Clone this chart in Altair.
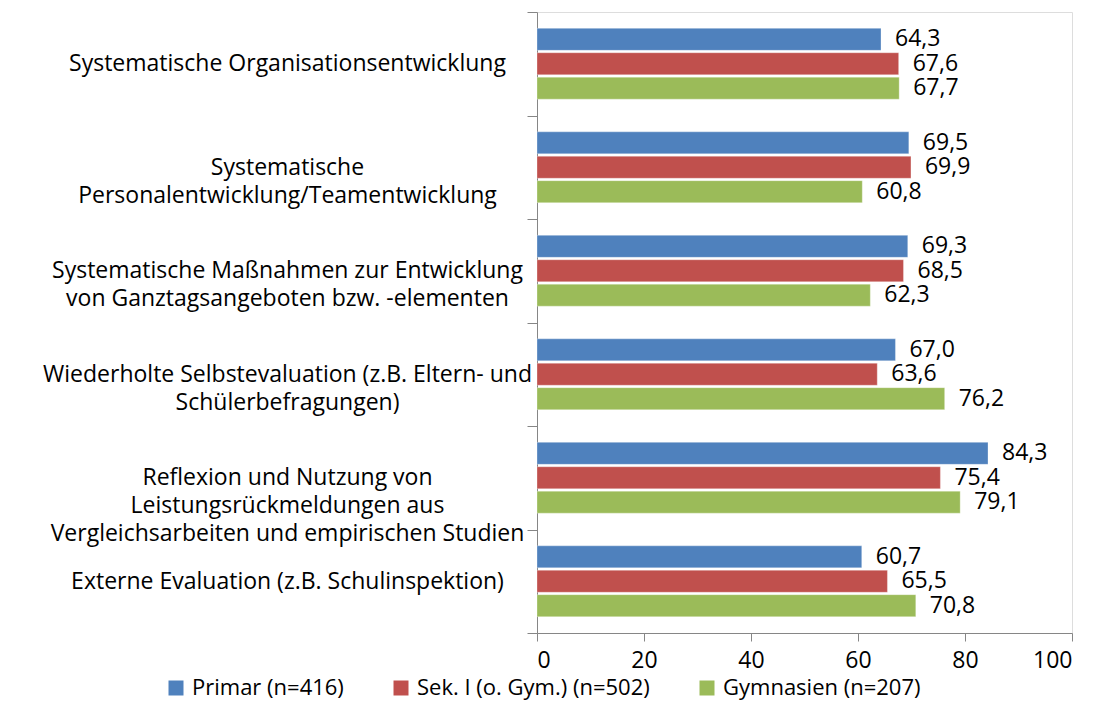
import altair as alt
import pandas as pd

categories = [
    "Systematische Organisationsentwicklung",
    "Systematische|Personalentwicklung/Teamentwicklung",
    "Systematische Maßnahmen zur Entwicklung|von Ganztagsangeboten bzw. -elementen",
    "Wiederholte Selbstevaluation (z.B. Eltern- und|Schülerbefragungen)",
    "Reflexion und Nutzung von|Leistungsrückmeldungen aus|Vergleichsarbeiten und empirischen Studien",
    "Externe Evaluation (z.B. Schulinspektion)",
]
series = ["Primar (n=416)", "Sek. I (o. Gym.) (n=502)", "Gymnasien (n=207)"]
primar = [64.3, 69.5, 69.3, 67.0, 84.3, 60.7]
sek1 = [67.6, 69.9, 68.5, 63.6, 75.4, 65.5]
gymnasien = [67.7, 60.8, 62.3, 76.2, 79.1, 70.8]
colors = ["#4F81BD", "#C0504D", "#9BBB59"]
x_ticks = [0, 20, 40, 60, 80, 100]

rows = []
for s, vals in zip(series, [primar, sek1, gymnasien]):
    for c, v in zip(categories, vals):
        rows.append({"category": c, "series": s, "value": v,
                     "label": f"{v:.1f}".replace(".", ",")})
df = pd.DataFrame(rows)

FONT = "Open Sans"
FS = 23

y_enc = alt.Y("category:N", sort=categories, title=None,
              scale=alt.Scale(paddingInner=0, paddingOuter=0),
              axis=alt.Axis(labelExpr="split(datum.label, '|')",
                            labelAlign="center", labelPadding=240,
                            labelLimit=0, labelFontSize=FS, labelFont=FONT,
                            labelColor="#000000", tickBand="extent",
                            tickSize=10, tickColor="#868686",
                            domainColor="#868686", labelLineHeight=28))
yoff = alt.YOffset("series:N", sort=series,
                   scale=alt.Scale(paddingInner=0.1, paddingOuter=0.67))
x_enc = alt.X("value:Q", title=None,
              scale=alt.Scale(domain=[0, 100], nice=False),
              axis=alt.Axis(values=x_ticks, grid=False, tickSize=8,
                            tickColor="#868686", domainColor="#868686",
                            labelFontSize=FS, labelFont=FONT,
                            labelColor="#000000", labelPadding=8))

bars = alt.Chart(df).mark_bar(stroke="#ffffff", strokeWidth=0.5, strokeOpacity=0.6).encode(
    x=x_enc, y=y_enc, yOffset=yoff,
    color=alt.Color("series:N", sort=series,
                    scale=alt.Scale(domain=series, range=colors),
                    legend=alt.Legend(title=None, orient="none",
                                      direction="horizontal",
                                      legendX=-372, legendY=665,
                                      symbolType="square", symbolSize=225,
                                      symbolStrokeWidth=0,
                                      labelFontSize=22, labelFont=FONT,
                                      labelColor="#000000",
                                      columnPadding=46, symbolOffset=0,
                                      labelOffset=5, labelLimit=0)),
)

texts = alt.Chart(df).mark_text(align="left", baseline="middle", dx=14,
                                fontSize=FS, font=FONT, color="#000000").encode(
    x="value:Q", y=alt.Y("category:N", sort=categories), yOffset=alt.YOffset("series:N", sort=series),
    text="label:N",
)

chart = alt.layer(bars, texts).properties(
    width=535, height=621,
    autosize=alt.AutoSizeParams(type="none"),
    padding={"left": 529, "top": 4, "right": 18, "bottom": 69},
).configure_view(stroke=None).configure(background="#ffffff")

chart.save("out.html", embed_options={"renderer": "svg", "actions": False})
